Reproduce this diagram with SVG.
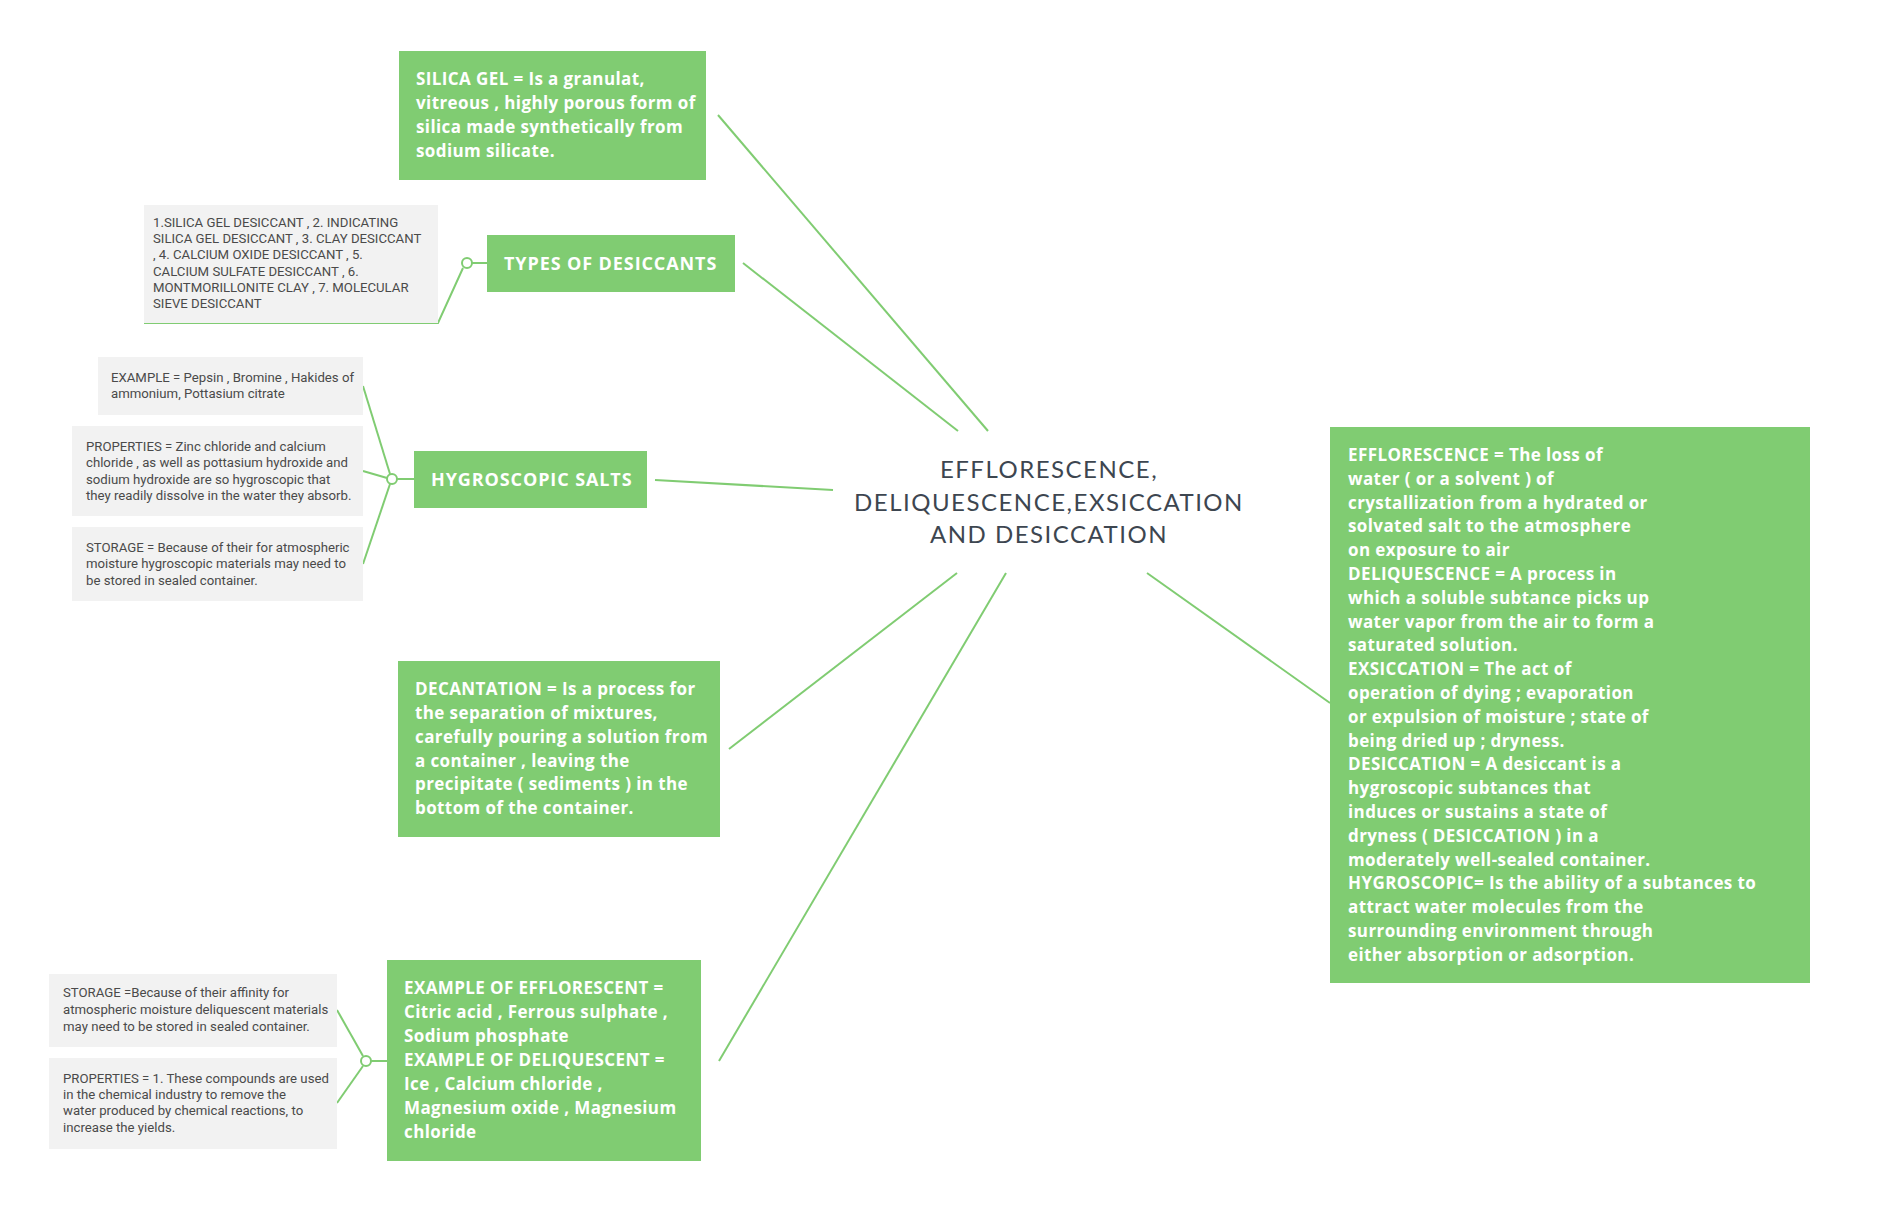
<svg xmlns="http://www.w3.org/2000/svg" width="1892" height="1211" viewBox="0 0 1892 1211">
<style>
.g{fill:#80cc72}
.s{fill:#f2f2f2}
.bt{font-family:"Open Sans",Lato,sans-serif;font-weight:bold;font-size:17px;letter-spacing:0.4px;fill:#ffffff}
.cap{font-size:18px;letter-spacing:0.9px}
.st{font-family:Roboto,"Liberation Sans",sans-serif;font-size:13.2px;fill:#4a4a4a}
.title{font-family:Lato,"Open Sans",sans-serif;font-size:24px;fill:#3d4650;letter-spacing:1.5px}
.ln{stroke:#80cc72;stroke-width:2;fill:none}
.dot{stroke:#80cc72;stroke-width:2;fill:#ffffff}
</style>
<rect width="1892" height="1211" fill="#ffffff"/>
<g id="connectors">
<line class="ln" x1="718" y1="115" x2="988" y2="431"/>
<line class="ln" x1="743" y1="263" x2="958" y2="431"/>
<line class="ln" x1="655" y1="480" x2="833" y2="490"/>
<line class="ln" x1="729" y1="749" x2="957" y2="573"/>
<line class="ln" x1="719" y1="1061" x2="1006" y2="573"/>
<line class="ln" x1="1147" y1="573" x2="1330" y2="703"/>
<polyline class="ln" points="144,323 438,323 463,268"/>
<line class="ln" x1="472" y1="263" x2="487" y2="263"/>
<line class="ln" x1="363" y1="386" x2="390" y2="474"/>
<line class="ln" x1="363" y1="471" x2="387" y2="478"/>
<line class="ln" x1="363" y1="564" x2="390" y2="484"/>
<line class="ln" x1="397" y1="479" x2="414" y2="479"/>
<line class="ln" x1="337" y1="1010" x2="363" y2="1056"/>
<line class="ln" x1="337" y1="1103" x2="363" y2="1066"/>
<line class="ln" x1="371" y1="1061" x2="387" y2="1061"/>
<circle class="dot" cx="467" cy="263" r="5"/>
<circle class="dot" cx="392" cy="479" r="5"/>
<circle class="dot" cx="366" cy="1061" r="5"/>
</g>
<g id="center">
<text class="title" text-anchor="middle"><tspan x="1049" y="478">EFFLORESCENCE,</tspan><tspan x="1049" y="511">DELIQUESCENCE,EXSICCATION</tspan><tspan x="1049" y="543">AND DESICCATION</tspan></text>
</g>
<g id="silica-gel">
<rect class="g" x="399" y="51" width="307" height="129"/>
<text class="bt"><tspan x="416" y="85">SILICA GEL = Is a granulat,</tspan><tspan x="416" y="109">vitreous , highly porous form of</tspan><tspan x="416" y="133">silica made synthetically from</tspan><tspan x="416" y="157">sodium silicate.</tspan></text>
</g>
<g id="types-of-desiccants">
<rect class="g" x="487" y="235" width="248" height="57"/>
<text class="bt cap" x="504" y="270">TYPES OF DESICCANTS</text>
</g>
<g id="types-list">
<rect class="s" x="144" y="205" width="294" height="118"/>
<text class="st"><tspan x="153" y="227">1.SILICA GEL DESICCANT , 2. INDICATING</tspan><tspan x="153" y="243">SILICA GEL DESICCANT , 3. CLAY DESICCANT</tspan><tspan x="153" y="259">, 4. CALCIUM OXIDE DESICCANT , 5.</tspan><tspan x="153" y="276">CALCIUM SULFATE DESICCANT , 6.</tspan><tspan x="153" y="292">MONTMORILLONITE CLAY , 7. MOLECULAR</tspan><tspan x="153" y="308">SIEVE DESICCANT</tspan></text>
</g>
<g id="hygroscopic-salts">
<rect class="g" x="414" y="451" width="233" height="57"/>
<text class="bt cap" x="431" y="486">HYGROSCOPIC SALTS</text>
</g>
<g id="hygro-example">
<rect class="s" x="98" y="357" width="265" height="58"/>
<text class="st"><tspan x="111" y="382">EXAMPLE = Pepsin , Bromine , Hakides of</tspan><tspan x="111" y="398">ammonium, Pottasium citrate</tspan></text>
</g>
<g id="hygro-properties">
<rect class="s" x="72" y="426" width="291" height="90"/>
<text class="st"><tspan x="86" y="451">PROPERTIES = Zinc chloride and calcium</tspan><tspan x="86" y="467">chloride , as well as pottasium hydroxide and</tspan><tspan x="86" y="484">sodium hydroxide are so hygroscopic that</tspan><tspan x="86" y="500">they readily dissolve in the water they absorb.</tspan></text>
</g>
<g id="hygro-storage">
<rect class="s" x="72" y="527" width="291" height="74"/>
<text class="st"><tspan x="86" y="552">STORAGE = Because of their for atmospheric</tspan><tspan x="86" y="568">moisture hygroscopic materials may need to</tspan><tspan x="86" y="585">be stored in sealed container.</tspan></text>
</g>
<g id="decantation">
<rect class="g" x="398" y="661" width="322" height="176"/>
<text class="bt"><tspan x="415" y="695">DECANTATION = Is a process for</tspan><tspan x="415" y="719">the separation of mixtures,</tspan><tspan x="415" y="743">carefully pouring a solution from</tspan><tspan x="415" y="767">a container , leaving the</tspan><tspan x="415" y="790">precipitate ( sediments ) in the</tspan><tspan x="415" y="814">bottom of the container.</tspan></text>
</g>
<g id="examples">
<rect class="g" x="387" y="960" width="314" height="201"/>
<text class="bt"><tspan x="404" y="994">EXAMPLE OF EFFLORESCENT =</tspan><tspan x="404" y="1018">Citric acid , Ferrous sulphate ,</tspan><tspan x="404" y="1042">Sodium phosphate</tspan><tspan x="404" y="1066">EXAMPLE OF DELIQUESCENT =</tspan><tspan x="404" y="1090">Ice , Calcium chloride ,</tspan><tspan x="404" y="1114">Magnesium oxide , Magnesium</tspan><tspan x="404" y="1138">chloride</tspan></text>
</g>
<g id="examples-storage">
<rect class="s" x="49" y="974" width="288" height="73"/>
<text class="st"><tspan x="63" y="997">STORAGE =Because of their affinity for</tspan><tspan x="63" y="1014">atmospheric moisture deliquescent materials</tspan><tspan x="63" y="1031">may need to be stored in sealed container.</tspan></text>
</g>
<g id="examples-properties">
<rect class="s" x="49" y="1058" width="288" height="91"/>
<text class="st"><tspan x="63" y="1083">PROPERTIES = 1. These compounds are used</tspan><tspan x="63" y="1099">in the chemical industry to remove the</tspan><tspan x="63" y="1115">water produced by chemical reactions, to</tspan><tspan x="63" y="1132">increase the yields.</tspan></text>
</g>
<g id="definitions">
<rect class="g" x="1330" y="427" width="480" height="556"/>
<text class="bt"><tspan x="1348" y="461">EFFLORESCENCE = The loss of</tspan><tspan x="1348" y="485">water ( or a solvent ) of</tspan><tspan x="1348" y="508.6">crystallization from a hydrated or</tspan><tspan x="1348" y="532.4">solvated salt to the atmosphere</tspan><tspan x="1348" y="556.2">on exposure to air</tspan><tspan x="1348" y="580">DELIQUESCENCE = A process in</tspan><tspan x="1348" y="603.8">which a soluble subtance picks up</tspan><tspan x="1348" y="627.6">water vapor from the air to form a</tspan><tspan x="1348" y="651.4">saturated solution.</tspan><tspan x="1348" y="675.2">EXSICCATION = The act of</tspan><tspan x="1348" y="699">operation of dying ; evaporation</tspan><tspan x="1348" y="722.8">or expulsion of moisture ; state of</tspan><tspan x="1348" y="746.6">being dried up ; dryness.</tspan><tspan x="1348" y="770.4">DESICCATION = A desiccant is a</tspan><tspan x="1348" y="794.2">hygroscopic subtances that</tspan><tspan x="1348" y="818">induces or sustains a state of</tspan><tspan x="1348" y="841.8">dryness ( DESICCATION ) in a</tspan><tspan x="1348" y="865.6">moderately well-sealed container.</tspan><tspan x="1348" y="889.4">HYGROSCOPIC= Is the ability of a subtances to</tspan><tspan x="1348" y="913.2">attract water molecules from the</tspan><tspan x="1348" y="937">surrounding environment through</tspan><tspan x="1348" y="960.8">either absorption or adsorption.</tspan></text>
</g>
</svg>
